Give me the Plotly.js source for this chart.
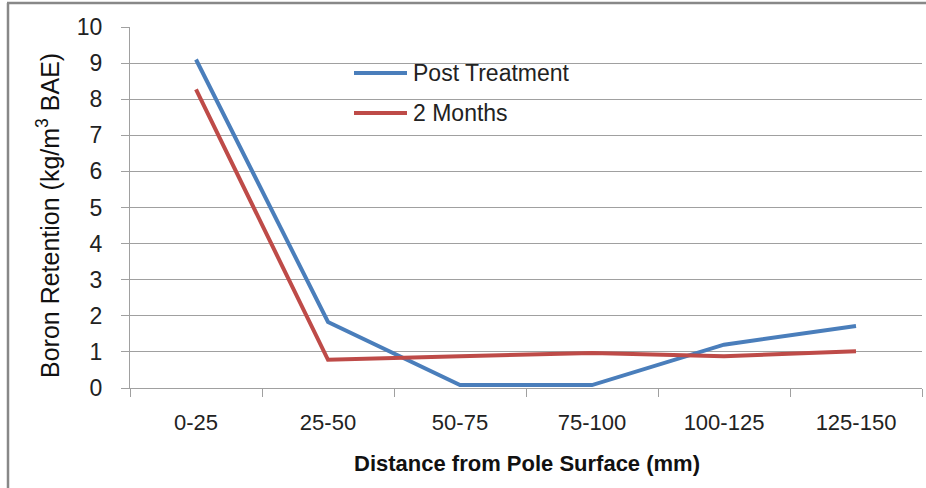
<!DOCTYPE html>
<html>
<head>
<meta charset="utf-8">
<script src="https://cdn.plot.ly/plotly-3.0.1.min.js"></script>
<style>
html,body{margin:0;padding:0;background:#fff;}
#chart{width:926px;height:488px;}
</style>
</head>
<body>
<div id="chart"></div>
<script>
// Data
const categories = ["0-25", "25-50", "50-75", "75-100", "100-125", "125-150"];
const postTreatment = [9.1, 1.83, 0.08, 0.08, 1.2, 1.72];
const twoMonths = [8.27, 0.78, 0.88, 0.97, 0.88, 1.02];
const seriesNames = ["Post Treatment", "2 Months"];
const yTicks = [0, 1, 2, 3, 4, 5, 6, 7, 8, 9, 10];

const blue = "#4a7ebb";
const red = "#be4b48";
const gridColor = "#a0a0a0";
const font = "Liberation Sans, Arial, sans-serif";

// plot area in pixels: x 130..922, y 27..388
const L = 130, R = 922, T = 27, B = 388;
const px = v => (v - L) / (R - L);
const py = v => (B - v) / (B - T);

const traces = [
  {x: categories, y: postTreatment, name: seriesNames[0], type: "scatter", mode: "lines",
   line: {color: blue, width: 4}},
  {x: categories, y: twoMonths, name: seriesNames[1], type: "scatter", mode: "lines",
   line: {color: red, width: 4}}
];

const layout = {
  width: 926, height: 488,
  margin: {l: L, r: 926 - R, t: T, b: 488 - B, pad: 0},
  paper_bgcolor: "#fff", plot_bgcolor: "#fff",
  showlegend: false,
  font: {family: font, color: "#222", size: 23},
  xaxis: {
    type: "category",
    tickson: "boundaries",
    ticks: "outside", ticklen: 8, tickcolor: gridColor, tickwidth: 1,
    showline: true, linecolor: gridColor, linewidth: 1,
    showgrid: false, zeroline: false,
    tickfont: {family: font, size: 22, color: "#222"},
    ticklabelstandoff: 15,
    range: [-0.5, 5.5]
  },
  yaxis: {
    range: [0, 10],
    tickvals: yTicks,
    ticks: "outside", ticklen: 8, tickcolor: gridColor, tickwidth: 1,
    showline: true, linecolor: gridColor, linewidth: 1,
    showgrid: true, gridcolor: gridColor, gridwidth: 1,
    zeroline: false,
    tickfont: {family: font, size: 23, color: "#222"},
    ticklabelstandoff: 14
  },
  shapes: [
    // outer chart frame (top & left visible)
    {type: "line", xref: "paper", yref: "paper", x0: px(8), x1: px(8), y0: py(490), y1: py(3),
     line: {color: "#888", width: 2.5}},
    {type: "line", xref: "paper", yref: "paper", x0: px(7), x1: px(930), y0: py(3), y1: py(3),
     line: {color: "#888", width: 2.5}},
    // legend samples
    {type: "line", xref: "paper", yref: "paper", x0: px(354), x1: px(407), y0: py(73), y1: py(73),
     line: {color: blue, width: 4}},
    {type: "line", xref: "paper", yref: "paper", x0: px(354), x1: px(407), y0: py(113), y1: py(113),
     line: {color: red, width: 4}}
  ],
  annotations: [
    {text: seriesNames[0], xref: "paper", yref: "paper", x: px(411), y: py(73),
     xanchor: "left", yanchor: "middle", showarrow: false,
     font: {family: font, size: 23, color: "#222"}},
    {text: seriesNames[1], xref: "paper", yref: "paper", x: px(411), y: py(113),
     xanchor: "left", yanchor: "middle", showarrow: false,
     font: {family: font, size: 23, color: "#222"}},
    {text: "Boron Retention (kg/m<sup>3</sup> BAE)", xref: "paper", yref: "paper",
     x: px(48), y: py(216), textangle: -90, xanchor: "center", yanchor: "middle",
     showarrow: false, font: {family: font, size: 25, color: "#111"}},
    {text: "<b>Distance from Pole Surface (mm)</b>", xref: "paper", yref: "paper",
     x: px(527), y: py(463), xanchor: "center", yanchor: "middle",
     showarrow: false, font: {family: font, size: 22, color: "#111"}}
  ]
};

Plotly.newPlot("chart", traces, layout, {displayModeBar: false, staticPlot: true});
</script>
</body>
</html>
